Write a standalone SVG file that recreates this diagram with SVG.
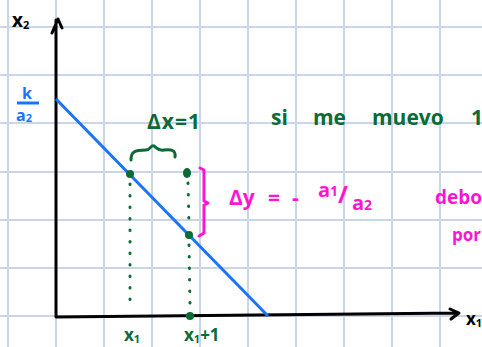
<svg xmlns="http://www.w3.org/2000/svg" width="482" height="347" viewBox="0 0 482 347">
<style>
.grid{stroke:#c9d5e8;stroke-width:2}
.axis{stroke:#000;stroke-width:3;fill:none;stroke-linecap:round;stroke-linejoin:round}
.g{fill:#0b6b36;font-family:"Open Sans","DejaVu Sans",sans-serif;font-weight:700}
.m{fill:#ff14d2;font-family:"Open Sans","DejaVu Sans",sans-serif;font-weight:700}
.b{fill:#1a73ff;font-family:"Open Sans","DejaVu Sans",sans-serif;font-weight:700}
.k{fill:#000;font-family:"Open Sans","DejaVu Sans",sans-serif;font-weight:700}
.dots{stroke:#0b6b36;stroke-width:3;stroke-linecap:round;stroke-dasharray:0.5 11;fill:none}
</style>
<rect width="482" height="347" fill="#fff"/>
<g id="grid">
<path class="grid" d="M8 0V347M56 0V347M104 0V347M152 0V347M200 0V347M248 0V347M296 0V347M344 0V347M392 0V347M440 0V347"/>
<path class="grid" d="M0 27H482M0 75H482M0 123H482M0 172H482M0 220H482M0 268H482M0 316H482"/>
</g>
<g id="axes">
<path class="axis" d="M56 316V20M52 33L58 19L62 28"/>
<path class="axis" d="M56 317L458 313M450 309L459 313L451 319"/>
<text class="k" x="12" y="27" font-size="19">x<tspan font-size="11" dy="2">2</tspan></text>
<text class="k" x="466" y="325" font-size="17">x<tspan font-size="11" dy="2">1</tspan></text>
</g>
<g id="line">
<path d="M56 99L268 316" stroke="#1a73ff" stroke-width="3" fill="none"/>
<text class="b" x="22" y="99" font-size="16">k</text>
<path d="M17 103H39" stroke="#1a73ff" stroke-width="3"/>
<text class="b" x="16" y="121" font-size="16">a<tspan font-size="11" dy="1">2</tspan></text>
</g>
<g id="points">
<path class="dots" d="M130 184V306"/>
<path class="dots" d="M188 183L189 226M189 245L190 306"/>
<circle cx="130" cy="174" r="4" fill="#0b6b36"/>
<ellipse cx="187" cy="173" rx="4" ry="5" fill="#0b6b36"/>
<circle cx="189" cy="235" r="4" fill="#0b6b36"/>
<circle cx="190" cy="316" r="4" fill="#0b6b36"/>
<text class="g" x="124" y="341" font-size="17">x<tspan font-size="11" dy="2">1</tspan></text>
<text class="g" x="184" y="341" font-size="17">x<tspan font-size="11" dy="2">1</tspan><tspan dy="-2">+1</tspan></text>
</g>
<g id="dx">
<path d="M131 160C131 152 134 150 146 150C151 150 151 144 154 146C157 148 158 151 164 150C171 149 176 150 175 157" stroke="#0b6b36" stroke-width="3" fill="none" stroke-linecap="round"/>
<text class="g" x="147" y="129" font-size="21" letter-spacing="1">Δx=1</text>
</g>
<g id="dy">
<path d="M200 168L204 170V201L208 203L204 205V233L199 236" stroke="#ff14d2" stroke-width="3" fill="none" stroke-linecap="round" stroke-linejoin="round"/>
<text class="m" font-size="21" y="205"><tspan x="229">Δy</tspan><tspan x="268">=</tspan><tspan x="292">-</tspan></text>
<text class="m" font-size="20" y="197"><tspan x="318">a</tspan><tspan font-size="14" dy="-1">1</tspan><tspan x="338" dy="7" font-size="24">/</tspan><tspan x="352" dy="7">a</tspan><tspan font-size="14">2</tspan></text>
<text class="m" x="435" y="204" font-size="19">debo</text>
<text class="m" x="452" y="241" font-size="17">por</text>
</g>
<g id="note">
<text class="g" font-size="21" y="125"><tspan x="271">si</tspan><tspan x="313">me</tspan><tspan x="372">muevo</tspan><tspan x="471">1</tspan></text>
</g>
</svg>
